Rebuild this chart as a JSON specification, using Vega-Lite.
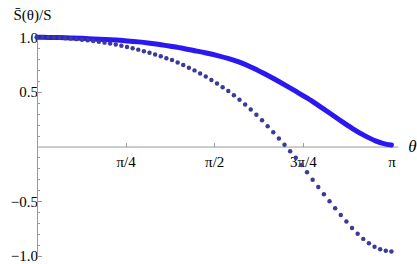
{
  "$schema": "https://vega.github.io/schema/vega-lite/v6.json",
  "autosize": "none",
  "width": 361,
  "height": 224,
  "padding": {"left": 37, "top": 34, "right": 19, "bottom": 6},
  "background": "white",
  "config": {"view": {"stroke": null}, "font": "Times New Roman, Liberation Serif, DejaVu Serif, serif"},
  "datasets": {
    "solid": [
      {"theta": 0, "s": 1.0}, {"theta": 0.1, "s": 0.999}, {"theta": 0.2, "s": 0.997}, {"theta": 0.3, "s": 0.994},
      {"theta": 0.4, "s": 0.990}, {"theta": 0.5, "s": 0.985}, {"theta": 0.6, "s": 0.980}, {"theta": 0.7, "s": 0.974},
      {"theta": 0.8, "s": 0.967}, {"theta": 0.9, "s": 0.958}, {"theta": 1.0, "s": 0.946}, {"theta": 1.1, "s": 0.932},
      {"theta": 1.2, "s": 0.915}, {"theta": 1.3, "s": 0.897}, {"theta": 1.4, "s": 0.877}, {"theta": 1.5, "s": 0.856},
      {"theta": 1.6, "s": 0.832}, {"theta": 1.7, "s": 0.804}, {"theta": 1.8, "s": 0.770}, {"theta": 1.9, "s": 0.726},
      {"theta": 2.0, "s": 0.675}, {"theta": 2.1, "s": 0.620}, {"theta": 2.2, "s": 0.562}, {"theta": 2.3, "s": 0.502},
      {"theta": 2.4, "s": 0.440}, {"theta": 2.5, "s": 0.372}, {"theta": 2.6, "s": 0.302}, {"theta": 2.7, "s": 0.230},
      {"theta": 2.8, "s": 0.162}, {"theta": 2.9, "s": 0.102}, {"theta": 3.0, "s": 0.052}, {"theta": 3.1, "s": 0.020},
      {"theta": 3.1416, "s": 0.014}
    ],
    "dots": [
      {"theta": 0.0000, "s": 1.000}, {"theta": 0.0499, "s": 1.000}, {"theta": 0.0997, "s": 0.999}, {"theta": 0.1496, "s": 0.997},
      {"theta": 0.1995, "s": 0.995}, {"theta": 0.2493, "s": 0.992}, {"theta": 0.2992, "s": 0.988}, {"theta": 0.3491, "s": 0.983},
      {"theta": 0.3989, "s": 0.978}, {"theta": 0.4488, "s": 0.972}, {"theta": 0.4987, "s": 0.966}, {"theta": 0.5485, "s": 0.959},
      {"theta": 0.5984, "s": 0.951}, {"theta": 0.6483, "s": 0.942}, {"theta": 0.6981, "s": 0.933}, {"theta": 0.7480, "s": 0.923},
      {"theta": 0.7979, "s": 0.912}, {"theta": 0.8477, "s": 0.900}, {"theta": 0.8976, "s": 0.887}, {"theta": 0.9475, "s": 0.873},
      {"theta": 0.9973, "s": 0.859}, {"theta": 1.0472, "s": 0.842}, {"theta": 1.0971, "s": 0.826}, {"theta": 1.1469, "s": 0.809},
      {"theta": 1.1968, "s": 0.793}, {"theta": 1.2467, "s": 0.770}, {"theta": 1.2965, "s": 0.747}, {"theta": 1.3464, "s": 0.722},
      {"theta": 1.3963, "s": 0.697}, {"theta": 1.4461, "s": 0.669}, {"theta": 1.4960, "s": 0.642}, {"theta": 1.5459, "s": 0.610},
      {"theta": 1.5957, "s": 0.578}, {"theta": 1.6456, "s": 0.543}, {"theta": 1.6955, "s": 0.508}, {"theta": 1.7453, "s": 0.469},
      {"theta": 1.7952, "s": 0.429}, {"theta": 1.8451, "s": 0.384}, {"theta": 1.8949, "s": 0.340}, {"theta": 1.9448, "s": 0.290},
      {"theta": 1.9947, "s": 0.240}, {"theta": 2.0445, "s": 0.186}, {"theta": 2.0944, "s": 0.131}, {"theta": 2.1443, "s": 0.074},
      {"theta": 2.1941, "s": 0.017}, {"theta": 2.2440, "s": -0.043}, {"theta": 2.2939, "s": -0.103}, {"theta": 2.3437, "s": -0.169},
      {"theta": 2.3936, "s": -0.236}, {"theta": 2.4435, "s": -0.304}, {"theta": 2.4933, "s": -0.371}, {"theta": 2.5432, "s": -0.436},
      {"theta": 2.5931, "s": -0.501}, {"theta": 2.6429, "s": -0.564}, {"theta": 2.6928, "s": -0.626}, {"theta": 2.7427, "s": -0.686},
      {"theta": 2.7925, "s": -0.746}, {"theta": 2.8424, "s": -0.798}, {"theta": 2.8923, "s": -0.845}, {"theta": 2.9421, "s": -0.885},
      {"theta": 2.9920, "s": -0.917}, {"theta": 3.0419, "s": -0.940}, {"theta": 3.0917, "s": -0.954}, {"theta": 3.1416, "s": -0.960}
    ]
  },
  "encoding": {
    "x": {
      "field": "theta",
      "type": "quantitative",
      "scale": {"domain": [0, 3.2], "nice": false, "zero": false},
      "axis": {
        "orient": "bottom",
        "offset": -111.45,
        "values": [0.7853982, 1.5707963, 2.3561945, 3.1415927],
        "labelExpr": "datum.value < 1 ? 'π/4' : datum.value < 2 ? 'π/2' : datum.value < 3 ? '3π/4' : 'π'",
        "grid": false,
        "domainColor": "#999999",
        "domainWidth": 1,
        "tickColor": "#999999",
        "tickSize": -4,
        "tickWidth": 1,
        "labelFont": "Times New Roman, Liberation Serif, DejaVu Serif, serif",
        "labelFontSize": 15,
        "labelColor": "#000000",
        "labelPadding": 12,
        "labelFlush": false,
        "labelOverlap": false,
        "title": "θ",
        "titleFont": "Times New Roman, Liberation Serif, DejaVu Serif, serif",
        "titleFontStyle": "italic",
        "titleFontWeight": "normal",
        "titleFontSize": 17,
        "titleColor": "#000000",
        "titleX": 375,
        "titleY": 0,
        "titleAlign": "center",
        "titleBaseline": "middle",
        "titleAngle": 0
      }
    },
    "y": {
      "field": "s",
      "type": "quantitative",
      "scale": {"domain": [-1.02, 1.03], "nice": false, "zero": false},
      "axis": {
        "orient": "left",
        "values": [-1, -0.9, -0.8, -0.7, -0.6, -0.5, -0.4, -0.3, -0.2, -0.1, 0.1, 0.2, 0.3, 0.4, 0.5, 0.6, 0.7, 0.8, 0.9, 1],
        "labelExpr": "abs(datum.value) > 0.01 && abs(datum.value*2 - round(datum.value*2)) < 0.01 ? format(datum.value, '.1f') : ''",
        "grid": false,
        "domainColor": "#999999",
        "domainWidth": 1,
        "tickColor": "#999999",
        "tickWidth": 1,
        "tickSize": {"condition": {"test": "abs(datum.value*2 - round(datum.value*2)) < 0.01", "value": -4.5}, "value": -2.5},
        "labelFont": "Times New Roman, Liberation Serif, DejaVu Serif, serif",
        "labelFontSize": 15,
        "labelColor": "#000000",
        "labelPadding": 4,
        "labelFlush": false,
        "labelOverlap": false,
        "title": "S̄(θ)/S",
        "titleFont": "Times New Roman, Liberation Serif, DejaVu Serif, serif",
        "titleFontWeight": "normal",
        "titleFontSize": 15,
        "titleColor": "#000000",
        "titleAngle": 0,
        "titleAlign": "left",
        "titleBaseline": "alphabetic",
        "titleX": -24,
        "titleY": -15
      }
    }
  },
  "layer": [
    {
      "data": {"name": "solid"},
      "mark": {"type": "line", "color": "#2a17f2", "strokeWidth": 5, "strokeCap": "round", "interpolate": "monotone"}
    },
    {
      "data": {"name": "dots"},
      "mark": {"type": "circle", "color": "#3a3a9a", "size": 20, "opacity": 1}
    }
  ]
}
